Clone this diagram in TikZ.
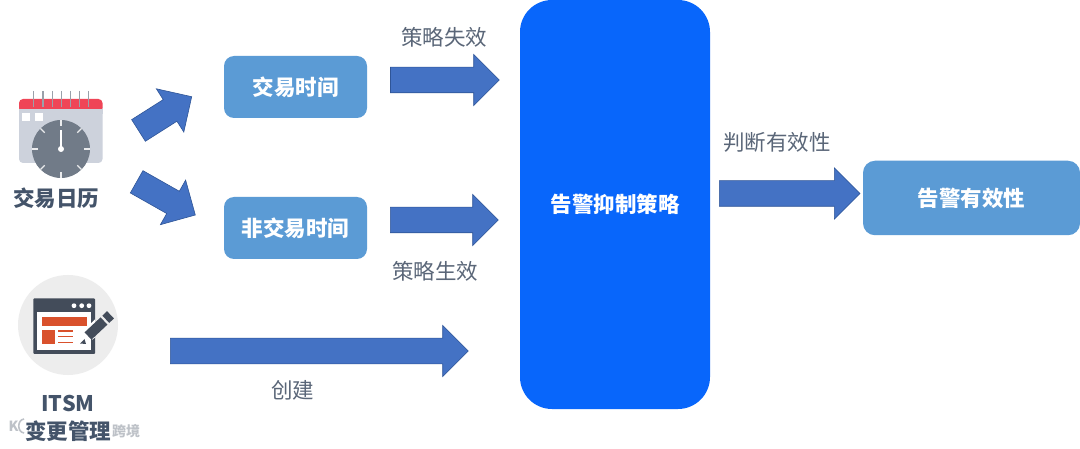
\documentclass[tikz,border=0pt]{standalone}
\usepackage{fontspec}
\setmainfont{Noto Sans CJK SC}
\usetikzlibrary{shapes.arrows}
\definecolor{boxblue}{HTML}{5B9BD5}
\definecolor{mainblue}{HTML}{0866FB}
\definecolor{arrowfill}{HTML}{4472C4}
\definecolor{arrowline}{HTML}{2F5597}
\definecolor{labelgray}{HTML}{5A6678}
\definecolor{titlegray}{HTML}{44546A}
\definecolor{clockgray}{HTML}{717B88}
\definecolor{calgray}{HTML}{CDD2DC}
\definecolor{calred}{HTML}{EF4557}
\definecolor{ringgray}{HTML}{9AA0AA}
\definecolor{itsmdark}{HTML}{434C5A}
\definecolor{itsmred}{HTML}{D9512C}
\definecolor{itsmbg}{HTML}{EDEDED}
\definecolor{markgray}{HTML}{BEC2C8}
\newcommand{\shaft}{\rule{0pt}{25pt}}
\tikzset{
  bigarrow/.style={single arrow, draw=arrowline, fill=arrowfill, line width=0.6pt,
    inner sep=0pt, outer sep=0pt, single arrow head extend=12.8pt,
    single arrow tip angle=90, single arrow head indent=0pt, anchor=tip},
  softbox/.style={fill=boxblue, text=white, font=\bfseries\fontsize{21.5}{25}\selectfont,
    inner sep=0pt, outer sep=0pt, rounded corners=10pt},
  mainbox/.style={fill=mainblue, text=white, font=\bfseries\fontsize{21.5}{25}\selectfont,
    inner sep=0pt, outer sep=0pt, rounded corners=32pt},
  flowlabel/.style={text=labelgray, font=\fontsize{21.5}{25}\selectfont, inner sep=0pt},
  icontitle/.style={text=titlegray, font=\bfseries\fontsize{21.5}{25}\selectfont, inner sep=0pt},
  tick/.style={white!85!clockgray, line width=1.1pt}
}
\begin{document}
\begin{tikzpicture}[x=1pt,y=-1pt]
\useasboundingbox[fill=white] (0,0) rectangle (1080,449);

% boxes
\node[softbox, minimum width=143pt, minimum height=62pt] (trade) at (295.5,87) {交易时间};
\node[softbox, minimum width=143pt, minimum height=62pt] (nontrade) at (295.5,228) {非交易时间};
\node[mainbox, minimum width=190pt, minimum height=409pt] (policy) at (615,204.5) {告警抑制策略};
\node[softbox, rounded corners=12pt, minimum width=217pt, minimum height=74.5pt] (valid) at (971.5,198) {告警有效性};

% block arrows (placed by their tips)
\node[bigarrow, rotate=32.4, minimum height=63pt] (a1) at (191.7,96.7) {\shaft};
\node[bigarrow, rotate=-29.5, minimum height=67.4pt] (a2) at (195.3,215) {\shaft};
\node[bigarrow, minimum height=108.8pt] (a3) at (499.3,80) {\shaft};
\node[bigarrow, minimum height=108pt] (a4) at (498.3,220) {\shaft};
\node[bigarrow, minimum height=298pt] (a5) at (468.3,351) {\shaft};
\node[bigarrow, minimum height=140.7pt] (a6) at (860,193.5) {\shaft};

% labels
\node[flowlabel] (l1) at (444,37) {策略失效};
\node[flowlabel] (l2) at (435,271) {策略生效};
\node[flowlabel] (l3) at (777,142) {判断有效性};
\node[flowlabel] (l4) at (292.5,390) {创建};

% calendar icon
\fill[calgray, rounded corners=4pt] (19,104) rectangle (102.5,163);
\fill[calred, rounded corners=4pt] (19,99) rectangle (102.5,112);
\fill[calgray] (19,109) rectangle (102.5,114);
\foreach \x in {33.7,43,52.3,61.7,70.7,79.7,88.7}
  \draw[ringgray, line width=1.4pt] (\x,91) -- (\x,107);
\fill[white] (21.7,112.7) rectangle (30,121);
\fill[white] (34.7,112.7) rectangle (43,121);
\fill[clockgray] (61,149) circle (29);
\foreach \a in {0,45,...,315}
  \draw[tick] (61,149) ++(\a:23) -- ++(\a:6);
\draw[white, line width=1.4pt] (61,149) -- (61,130);
\fill[white] (61,149) circle (3);
\node[icontitle] (cal) at (56,198) {交易日历};

% ITSM icon
\fill[itsmbg] (68,325) circle (50);
\fill[itsmdark, rounded corners=1pt] (33.3,298.3) rectangle (95,354);
\fill[white] (37,312.3) rectangle (90.7,350);
\foreach \x in {74,81.7,89}
  \fill[white] (\x,305.7) circle (2.4);
\fill[itsmred] (41.7,317.3) rectangle (86.7,325.7);
\fill[itsmred] (41.7,330) rectangle (55,344.3);
\foreach \y in {331,336.7,342.3}
  \draw[itsmred, line width=1.5pt] (58.3,\y) -- (73.3,\y);
\fill[itsmdark] (80,343.5) -- (84.5,339) -- (86,344) -- cycle;
% pencil
\begin{scope}
  \clip (33.3,298.3) rectangle (95,354);
  \draw[white, line width=13pt] (88,335) -- (106,318);
\end{scope}
\draw[itsmbg, line width=3pt] (95,325) -- (95,330);
\draw[itsmdark, line width=10pt] (88,336) -- (104,321);
\draw[itsmdark, line width=10pt] (105.8,319.3) -- (110.5,314.8);
\node[icontitle] (itsm) at (68,404) {ITSM};

% watermark
\node[text=markgray, font=\bfseries\fontsize{14}{17}\selectfont, inner sep=0pt] (wm) at (126,431) {跨境};
\node[text=markgray, font=\bfseries\fontsize{14}{17}\selectfont, inner sep=0pt] (wk) at (13.5,426) {K};
\draw[markgray, line width=1.6pt] (24,419) .. controls (17,420) and (17,432) .. (24,433);
\node[icontitle] (change) at (68,431) {变更管理};
\end{tikzpicture}
\end{document}
